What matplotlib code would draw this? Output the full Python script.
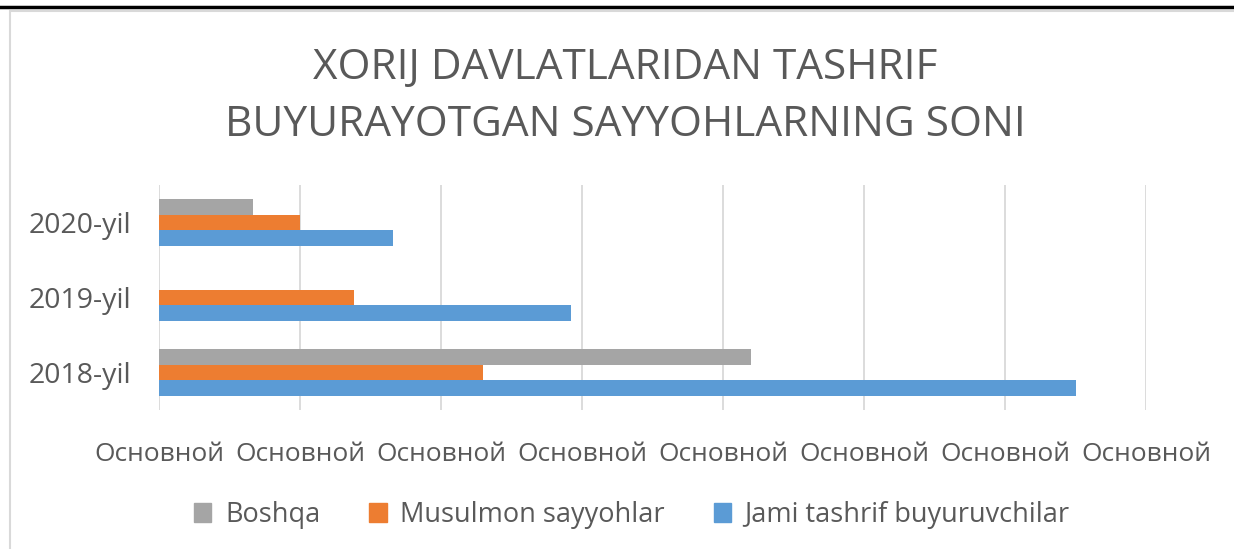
import matplotlib.pyplot as plt
from matplotlib.lines import Line2D
from matplotlib.patches import Patch, Rectangle
import numpy as np

categories = ["2018-yil", "2019-yil", "2020-yil"]
jami = [6.5, 2.92, 1.66]
musulmon = [2.30, 1.38, 1.0]
boshqa = [4.2, 0.0, 0.667]
tick_values = [0, 1, 2, 3, 4, 5, 6, 7]
tick_labels = ["Основной"] * len(tick_values)

BLUE = "#5B9BD5"
ORANGE = "#ED7D31"
GRAY = "#A5A5A5"
TEXT = "#595959"
GRID = "#D9D9D9"

plt.rcParams["font.family"] = ["Open Sans", "DejaVu Sans"]

fig = plt.figure(figsize=(12.34, 5.49), dpi=100)
ax = fig.add_axes([0.1289, 0.2532, 0.7998, 0.4098])

y = np.arange(len(categories))
h = 0.207
ax.barh(y - h, jami, height=h, color=BLUE, linewidth=0)
ax.barh(y, musulmon, height=h, color=ORANGE, linewidth=0)
ax.barh(y + h, boshqa, height=h, color=GRAY, linewidth=0)

ax.set_xlim(0, 7)
ax.set_ylim(-0.5, 2.5)
ax.set_xticks(tick_values)
ax.set_xticklabels(tick_labels, fontsize=19, color=TEXT)
ax.set_yticks(y)
ax.set_yticklabels(categories, fontsize=20.5, color=TEXT)
ax.tick_params(axis="both", length=0)
ax.tick_params(axis="x", pad=23)
ax.tick_params(axis="y", pad=20)
ax.grid(axis="x", color=GRID, linewidth=1.3)
ax.set_axisbelow(True)
for side in ax.spines.values():
    side.set_visible(False)

fig.text(0.507, 0.876, "XORIJ DAVLATLARIDAN TASHRIF", ha="center", va="center",
         fontsize=30.5, color=TEXT)
fig.text(0.507, 0.772, "BUYURAYOTGAN SAYYOHLARNING SONI", ha="center", va="center",
         fontsize=30.5, color=TEXT)

handles = [Patch(color=GRAY), Patch(color=ORANGE), Patch(color=BLUE)]
labels = ["Boshqa", "Musulmon sayyohlar", "Jami tashrif buyuruvchilar"]
fig.legend(handles, labels, loc="center", bbox_to_anchor=(0.512, 0.062), ncols=3,
           frameon=False, fontsize=19.5, labelcolor=TEXT, handlelength=0.65,
           handleheight=0.75, handletextpad=0.5, columnspacing=1.8)

# chart frame and the black rule above it
fig.add_artist(Rectangle((10 / 1234, -0.1), 1.2, 1 - 11 / 549 + 0.1,
                         transform=fig.transFigure, fill=False,
                         edgecolor=GRID, linewidth=1.5))
fig.add_artist(Line2D([0, 1], [1 - 7 / 549] * 2, transform=fig.transFigure,
                      color="black", linewidth=2.5))

fig.savefig("out.png", dpi=100)
